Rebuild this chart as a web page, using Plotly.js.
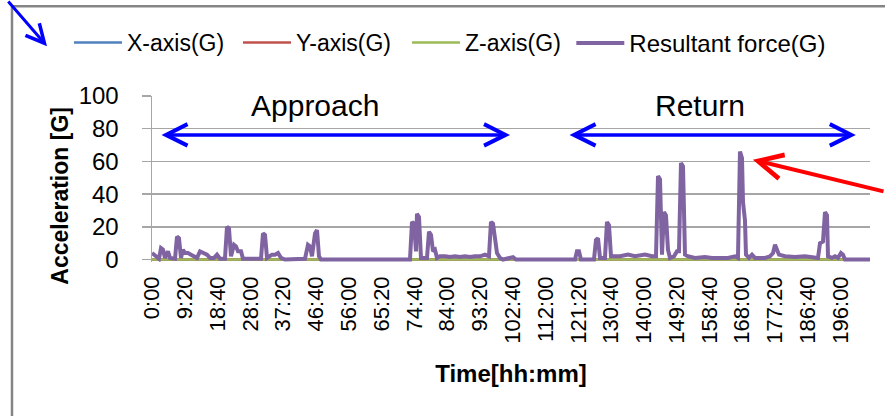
<!DOCTYPE html>
<html>
<head>
<meta charset="utf-8">
<script src="https://cdn.plot.ly/plotly-3.0.1.min.js"></script>
<style>
  html, body { margin: 0; padding: 0; background: #ffffff; }
  #chart { width: 885px; height: 416px; }
</style>
</head>
<body>
<div id="chart"></div>
<script>
// ---- Data ----
// x-axis tick labels (elapsed time, hh:mm)
const tickLabels = ['0:00','9:20','18:40','28:00','37:20','46:40','56:00','65:20','74:40','84:00','93:20',
  '102:40','112:00','121:20','130:40','140:00','149:20','158:40','168:00','177:20','186:40','196:00'];

// Resultant force (G) samples: time in hours, value in G
const timeH = [0.0,0.57,1.42,1.99,2.56,3.13,3.70,4.55,5.12,6.55,7.11,7.68,8.25,8.82,9.39,10.24,11.10,11.95,12.81,
  13.66,14.80,15.65,16.51,17.64,18.50,19.35,20.77,21.34,21.91,22.48,23.34,23.91,24.47,25.33,25.90,30.16,31.02,
  31.59,32.16,32.73,34.15,35.00,35.86,36.71,37.85,43.54,44.39,44.96,45.53,46.39,46.96,47.52,48.09,73.42,73.99,
  74.56,75.13,75.41,75.98,76.55,78.26,78.83,79.40,79.97,80.54,81.10,81.96,83.38,84.80,86.23,87.65,89.07,90.50,
  91.92,93.34,94.76,95.90,96.47,97.04,97.61,98.18,99.03,99.89,102.73,103.59,120.38,120.94,121.51,122.08,125.78,
  126.35,126.92,127.49,128.91,129.48,130.05,130.62,133.18,135.46,137.45,140.30,142.29,143.43,144.00,144.57,
  145.13,145.70,146.27,146.84,147.41,148.55,149.40,149.97,150.54,151.11,151.68,152.53,154.52,157.37,159.36,
  161.64,163.92,165.91,166.76,167.33,167.90,168.19,168.75,169.04,169.89,170.75,171.60,174.45,175.87,176.73,
  177.30,177.86,178.43,180.14,182.98,185.83,188.68,189.53,190.10,190.95,191.52,192.09,192.38,193.51,194.37,
  195.22,196.07,196.64,197.21,204.33];
const resultantG = [4,3,1,0.5,7,6,1,5,1,0.5,14,13,1,6,4,4,3,2,1,
  5,4,3,1,1,3,0.5,0.5,20,19,2,9,8,5,5,0.5,1,0.5,
  16,15,1,3,3,4,1,0,0.5,9,8,2,16,18,2,0,0,23,
  22,5,28,26,1,1,17,15,5,6,1,2,2,1.5,2,1.5,2,1.5,
  2,2,3,2,23,22,13,4,1,0,1.5,0,0,5,5,0,0,
  12,13,1,1,23,21,2,2,3,2,3,2,2,51,49,
  3,29,27,6,1,2,5,5,59,57,3,2,1,1.5,1,
  1,1,2,1,66,62,35,24,3,1,3,1,1,2,4,
  9,6,3,2,1.5,2,1,1,10,11,29,27,2,1,2,
  1,4,3,0,0];

// Axis components (G): fully hidden beneath the resultant trace in the picture
const axisTime = [0, 204.33];
const xAxisG = [0, 0];
const yAxisG = [0, 0];
const zAxisG = [0, 0];

const seriesNames = ['X-axis(G)', 'Y-axis(G)', 'Z-axis(G)', 'Resultant force(G)'];
const seriesColors = ['#4f81bd', '#c0504d', '#9bbb59', '#8064a2'];

// ---- Build chart ----
const tickVals = tickLabels.map(s => { const p = s.split(':'); return +p[0] + (+p[1]) / 60; });

const comp = [xAxisG, yAxisG, zAxisG];
const traces = comp.map((vals, i) => ({
  x: axisTime, y: vals, type: 'scatter', mode: 'lines', name: seriesNames[i],
  line: { color: seriesColors[i], width: 2.5 }, legend: 'legend'
}));
traces.push({
  x: timeH, y: resultantG, type: 'scatter', mode: 'lines', name: seriesNames[3],
  line: { color: seriesColors[3], width: 4 }, legend: 'legend2'
});

const gridC = '#a6a6a6';
const legFont = { size: 23, family: 'Liberation Sans, Arial, sans-serif', color: '#000000' };
const layout = {
  width: 885, height: 416,
  margin: { l: 152, r: 15, t: 96, b: 153.5 },
  paper_bgcolor: '#ffffff', plot_bgcolor: '#ffffff',
  font: { family: 'Liberation Sans, Arial, sans-serif', color: '#000000' },
  showlegend: true,
  legend: {
    orientation: 'h', x: -0.1156, xanchor: 'left', y: 1.452, yanchor: 'top', itemwidth: 48,
    font: legFont, entrywidth: 106, entrywidthmode: 'pixels', bgcolor: 'rgba(0,0,0,0)'
  },
  legend2: {
    orientation: 'h', x: 0.584, xanchor: 'left', y: 1.452, yanchor: 'top', itemwidth: 48,
    font: { size: 24, family: 'Liberation Sans, Arial, sans-serif', color: '#000000' },
    bgcolor: 'rgba(0,0,0,0)'
  },
  xaxis: {
    range: [0, 204.33], tickmode: 'array', tickvals: tickVals, ticktext: tickLabels,
    tickangle: -90, tickfont: { size: 22 }, showgrid: false, zeroline: false,
    showline: false, ticks: '', ticklabelstandoff: 9,
    title: { text: '<b>Time[hh:mm]</b>', font: { size: 24 }, standoff: 22 }
  },
  yaxis: {
    range: [-1.5, 100], tickvals: [0, 20, 40, 60, 80, 100], tickfont: { size: 24 },
    showgrid: true, gridcolor: gridC, gridwidth: 1.5, zeroline: false,
    showline: true, linecolor: gridC, linewidth: 1.5,
    ticks: 'outside', ticklen: 9, tickcolor: gridC, tickwidth: 1.5, ticklabelstandoff: 18
  },
  shapes: [
    { type: 'rect', xref: 'paper', yref: 'paper', x0: -0.195, x1: 1.05, y0: -1.0, y1: 1.5405,
      line: { color: '#858585', width: 2.5 }, fillcolor: 'rgba(0,0,0,0)', layer: 'below' }
  ],
  annotations: [
    { x: (60 - 152) / 718, y: (262.5 - 196) / 166.5, xref: 'paper', yref: 'paper',
      xanchor: 'center', yanchor: 'middle',
      text: '<b>Acceleration [G]</b>', textangle: -90, showarrow: false,
      font: { size: 23, family: 'Liberation Sans, Arial, sans-serif' } },
    { x: 46.4, y: 93.9, xref: 'x', yref: 'y', text: 'Approach', showarrow: false,
      font: { size: 30, family: 'Liberation Sans, Arial, sans-serif' } },
    { x: 155.9, y: 93.9, xref: 'x', yref: 'y', text: 'Return', showarrow: false,
      font: { size: 30, family: 'Liberation Sans, Arial, sans-serif' } },
    { x: 101.9, y: 76.2, ax: 2.28, ay: 76.2, xref: 'x', yref: 'y', axref: 'x', ayref: 'y',
      text: '', showarrow: true, arrowside: 'end+start', arrowhead: 5, startarrowhead: 5,
      arrowsize: 1.2, startarrowsize: 1.2, arrowwidth: 3.5, arrowcolor: '#0000ff' },
    { x: 200.3, y: 76.2, ax: 118.4, ay: 76.2, xref: 'x', yref: 'y', axref: 'x', ayref: 'y',
      text: '', showarrow: true, arrowside: 'end+start', arrowhead: 5, startarrowhead: 5,
      arrowsize: 1.2, startarrowsize: 1.2, arrowwidth: 3.5, arrowcolor: '#0000ff' },
    { x: 171.0, y: 61.0, xref: 'x', yref: 'y', ax: 150, ay: 32, text: '', showarrow: true,
      arrowhead: 5, arrowsize: 1.2, arrowwidth: 4, arrowcolor: '#ff0000', standoff: 0 },
    { x: (47 - 152) / 718, y: (262.5 - 46) / 166.5, xref: 'paper', yref: 'paper', ax: -40, ay: -52,
      text: '', showarrow: true, arrowhead: 5, arrowsize: 1.2, arrowwidth: 3, arrowcolor: '#0000ff' }
  ]
};

Plotly.newPlot('chart', traces, layout, { staticPlot: true, displayModeBar: false });
</script>
</body>
</html>
